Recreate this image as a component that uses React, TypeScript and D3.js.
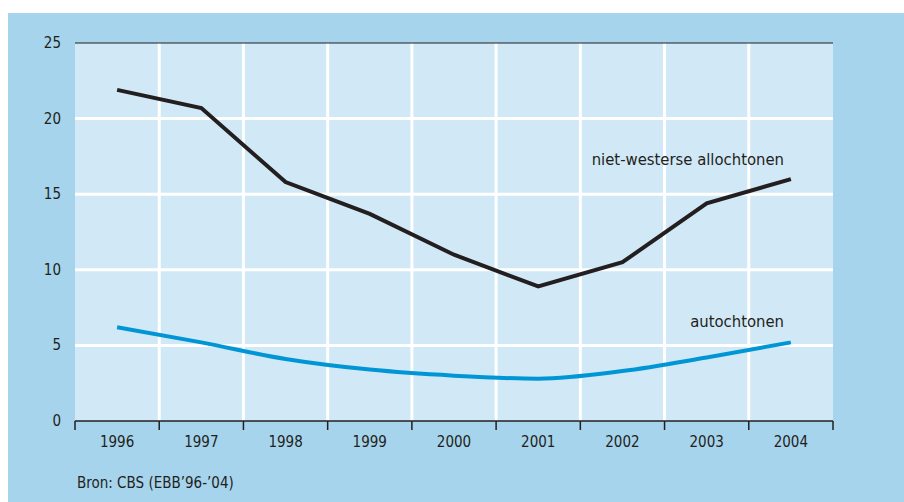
import React from "react";
import * as d3 from "d3";

const years = ["1996", "1997", "1998", "1999", "2000", "2001", "2002", "2003", "2004"];
const nietWesterse = [21.9, 20.7, 15.8, 13.7, 11.0, 8.9, 10.5, 14.4, 16.0];
const autochtonen = [6.2, 5.2, 4.1, 3.4, 3.0, 2.8, 3.3, 4.2, 5.2];
const yTicks = [0, 5, 10, 15, 20, 25];
const seriesLabels = ["niet-westerse allochtonen", "autochtonen"];
const source = "Bron: CBS (EBB’96-’04)";

const W = 904, H = 502;
const left = 75, right = 833, top = 43, bottom = 421;
const font = "'Liberation Sans Narrow', 'DejaVu Sans Condensed', sans-serif";
const ink = "#231f20";

export default function App() {
  const x = d3.scaleBand<string>().domain(years).range([left, right]);
  const y = d3.scaleLinear().domain([0, 25]).range([bottom, top]);
  const cx = (yr: string) => (x(yr) as number) + x.bandwidth() / 2;
  const lineBlack = d3.line<number>().x((_, i) => cx(years[i])).y((d) => y(d)).curve(d3.curveLinear);
  const lineBlue = d3.line<number>().x((_, i) => cx(years[i])).y((d) => y(d)).curve(d3.curveMonotoneX);
  const bounds = years.map((yr) => x(yr) as number).concat([right]);

  return (
    <svg width={W} height={H} style={{ position: "absolute", left: 0, top: 0, fontFamily: font }}>
      <rect x={0} y={0} width={W} height={H} fill="#ffffff" />
      <rect x={8} y={13} width={W - 8} height={H - 13} fill="#a6d4ec" />
      <rect x={left} y={top} width={right - left} height={bottom - top} fill="#d1e8f6" />
      {yTicks.filter((t) => t > 0 && t < 25).map((t) => (
        <line key={"h" + t} x1={left} x2={right} y1={y(t)} y2={y(t)} stroke="#ffffff" strokeWidth={3} />
      ))}
      {bounds.slice(1, -1).map((b, i) => (
        <line key={"v" + i} x1={b} x2={b} y1={top} y2={bottom} stroke="#ffffff" strokeWidth={3} />
      ))}
      <line x1={left} x2={right} y1={y(25)} y2={y(25)} stroke={ink} strokeWidth={1.2} />
      <line x1={left} x2={right} y1={bottom} y2={bottom} stroke={ink} strokeWidth={1.5} />
      {bounds.map((b, i) => (
        <line key={"t" + i} x1={b} x2={b} y1={bottom} y2={bottom + 9} stroke={ink} strokeWidth={1.5} />
      ))}
      {yTicks.map((t) => (
        <text key={"yl" + t} x={61} y={y(t) + 5} textAnchor="end" fontSize={15} fill={ink}>
          {t}
        </text>
      ))}
      {years.map((yr) => (
        <text key={"xl" + yr} x={cx(yr)} y={447} textAnchor="middle" fontSize={15} fill={ink}>
          {yr}
        </text>
      ))}
      <path d={lineBlack(nietWesterse) || ""} fill="none" stroke={ink} strokeWidth={4} strokeLinejoin="miter" />
      <path d={lineBlue(autochtonen) || ""} fill="none" stroke="#0096d6" strokeWidth={4} />
      <text x={784} y={165} textAnchor="end" fontSize={16.5} fill={ink}>{seriesLabels[0]}</text>
      <text x={784} y={327} textAnchor="end" fontSize={16.5} fill={ink}>{seriesLabels[1]}</text>
      <text x={77} y={488} fontSize={15} fill={ink}>{source}</text>
    </svg>
  );
}
